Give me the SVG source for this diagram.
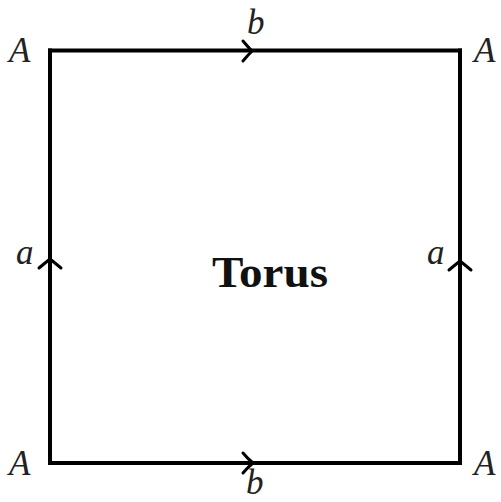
<svg xmlns="http://www.w3.org/2000/svg" width="501" height="502" viewBox="0 0 501 502">
<style>
.lbl{font-family:'Liberation Serif','Times New Roman',Times,serif;font-style:italic;font-size:35px;fill:#222}
.title{font-family:'Liberation Serif','Times New Roman',Times,serif;font-weight:bold;font-size:44px;fill:#111}
.edge{fill:none;stroke:#000;stroke-width:4;stroke-linecap:square}
.arr{fill:none;stroke:#000;stroke-width:3;stroke-linecap:round;stroke-linejoin:round}
</style>
<rect width="501" height="502" fill="#fff"/>
<g id="connectors">
<path class="edge" d="M50,50.5 H460"/>
<path class="edge" d="M50,463 H460"/>
<path class="edge" d="M50,50.5 V463"/>
<path class="edge" d="M460,50.5 V463"/>
<path class="arr" d="M243,41 Q248,47 252,51 Q248,55 243,61"/>
<path class="arr" d="M243,453 Q248,459 253,463 Q248,467 243,473"/>
<path class="arr" d="M39,268 Q45,263 50,259 Q55,263 61,268"/>
<path class="arr" d="M449,270 Q455,265 460,261 Q465,265 471,270"/>
</g>
<g id="corner-tl"><text class="lbl" x="9" y="62">A</text></g>
<g id="corner-tr"><text class="lbl" x="474" y="62">A</text></g>
<g id="corner-bl"><text class="lbl" x="9" y="475">A</text></g>
<g id="corner-br"><text class="lbl" x="474" y="475">A</text></g>
<g id="label-b-top"><text class="lbl" x="247" y="34">b</text></g>
<g id="label-b-bottom"><text class="lbl" x="246" y="494">b</text></g>
<g id="label-a-left"><text class="lbl" x="16" y="264">a</text></g>
<g id="label-a-right"><text class="lbl" x="427" y="264">a</text></g>
<g id="title"><text class="title" x="212" y="287" textLength="116" lengthAdjust="spacingAndGlyphs">Torus</text></g>
</svg>
